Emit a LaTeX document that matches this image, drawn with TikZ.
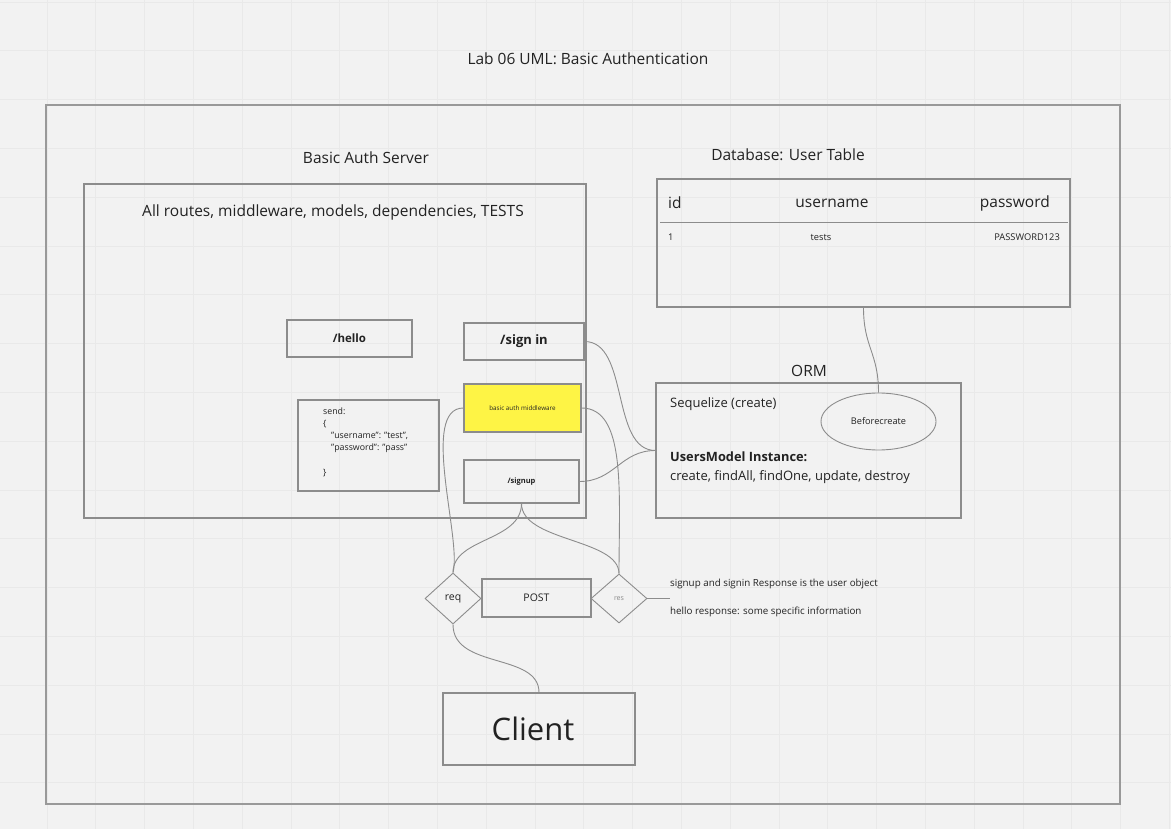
\documentclass[tikz,border=0pt]{standalone}
\usepackage{fontspec}
\setmainfont{Open Sans}
\usetikzlibrary{shapes.geometric}
\definecolor{bg}{HTML}{F2F2F2}
\definecolor{gridc}{HTML}{E9E9E9}
\definecolor{linec}{HTML}{8C8C8C}
\definecolor{framec}{HTML}{999999}
\definecolor{txt}{HTML}{222222}
\definecolor{yel}{HTML}{FEF445}
\definecolor{resc}{HTML}{8A8A8A}
\newcommand{\fs}[1]{\fontsize{#1}{\fpeval{#1*1.2}}\selectfont}
\tikzset{
  box/.style={draw=linec, line width=1.1pt, inner sep=0pt},
  conn/.style={draw=linec, line width=0.9pt},
  lbl/.style={text=txt, inner sep=0pt},
  dia/.style={diamond, draw=linec, line width=0.9pt, inner sep=0pt, aspect=1},
}
\begin{document}
\begin{tikzpicture}[x=1pt,y=-1pt]
\useasboundingbox (0,0) rectangle (1171,829);
\fill[bg] (0,0) rectangle (1171,829);
\foreach \i in {0,...,24} { \draw[gridc, line width=0.7pt] ({-1.8+48.8*\i},0) -- ({-1.8+48.8*\i},829); }
\foreach \j in {0,...,17} { \draw[gridc, line width=0.7pt] (0,{2+48.8*\j}) -- (1171,{2+48.8*\j}); }

% title and outer frame
\node[lbl, font=\fs{15.5}] (title) at (588,59) {Lab 06 UML: Basic Authentication};
\node[draw=framec, line width=2pt, minimum width=1074pt, minimum height=699pt, inner sep=0pt] (frame) at (583,454.5) {};

% server
\node[lbl, font=\fs{15.5}] (srvlbl) at (366,158) {Basic Auth Server};
\node[box, minimum width=502pt, minimum height=334pt] (server) at (335,351) {};
\node[lbl, font=\fs{15.5}] (routes) at (333,212) {All routes, middleware, models, dependencies, TESTS};

\node[box, minimum width=125pt, minimum height=37pt, font=\bfseries\fs{11.5}, text=txt] (hello) at (349.5,338.5) {/hello};
\node[box, minimum width=120pt, minimum height=37pt, font=\bfseries\fs{13}, text=txt] (signin) at (524,341.5) {/sign in};
\node[box, fill=yel, minimum width=117pt, minimum height=48pt, font=\fs{6.3}, text=txt] (mw) at (522.5,408) {basic auth middleware};
\node[box, minimum width=115pt, minimum height=43pt, font=\bfseries\fs{7.5}, text=txt] (signup) at (521.5,481.5) {/signup};

\node[box, minimum width=141pt, minimum height=91pt] (send) at (368.5,445.5) {};
\node[lbl, font=\fontsize{8.8}{12.2}\selectfont, anchor=north west, align=left] (sendtxt) at (323,407.5) {send:\\\{\\\hspace{8pt}"username": "test",\\\hspace{8pt}"password": "pass"\\[12.2pt]\}};

% database
\node[lbl, font=\fs{15.5}] (dblbl) at (788,155) {Database: User Table};
\node[box, minimum width=413pt, minimum height=128pt] (table) at (863.5,243) {};
\draw[linec, line width=0.9pt] (660,222) -- (1068,222);
\node[lbl, font=\fs{15.5}, anchor=west] (hid) at (668,203) {id};
\node[lbl, font=\fs{15.5}] (huser) at (832,203) {username};
\node[lbl, font=\fs{15.5}, anchor=east] (hpass) at (1050,203) {password};
\node[lbl, font=\fs{9.3}, anchor=west] (r1) at (668,237) {1};
\node[lbl, font=\fs{9.3}] (r2) at (821,237) {tests};
\node[lbl, font=\fs{9.3}, anchor=east] (r3) at (1060,237) {PASSWORD123};

% ORM
\node[lbl, font=\fs{15.5}] (ormlbl) at (809,371) {ORM};
\node[box, minimum width=305pt, minimum height=135pt] (orm) at (808.5,450.5) {};
\node[lbl, font=\fs{13}, anchor=west] (seq) at (670,404) {Sequelize (create)};
\node[ellipse, draw=linec, line width=0.9pt, minimum width=115pt, minimum height=57pt, inner sep=0pt, font=\fs{9.2}, text=txt] (bc) at (878.5,421.5) {Beforecreate};
\node[lbl, font=\bfseries\fs{12.8}, anchor=west] (umi) at (670,457) {UsersModel Instance:};
\node[lbl, font=\fs{13}, anchor=west] (meth) at (670,477) {create, findAll, findOne, update, destroy};

% request / response
\node[dia, minimum width=56pt, minimum height=51pt, font=\fs{10.5}, text=txt] (req) at (453,598.5) {req};
\node[box, minimum width=109pt, minimum height=38pt, font=\fs{10.5}, text=txt] (post) at (536.5,598) {POST};
\node[dia, minimum width=56pt, minimum height=49pt, font=\fs{7}, text=resc] (res) at (619,598.5) {res};
\coordinate (resend) at (670,598.5);
\node[lbl, font=\fs{9.8}, anchor=west] (resp1) at (670,584) {signup and signin Response is the user object};
\node[lbl, font=\fs{9.8}, anchor=west] (resp2) at (670,612) {hello response: some specific information};

\node[box, minimum width=192pt, minimum height=72pt] (client) at (539,729) {};
\node[lbl, font=\fs{31}] (clienttxt) at (533,729) {Client};

% connectors
\draw[conn] (signin.east) .. controls +(45,0) and +(-45,0) .. (orm.west);
\draw[conn] (signup.east) .. controls +(35,0) and +(-35,0) .. (orm.west);
\draw[conn] (mw.east) .. controls +(45,0) and +(0,-80) .. (res.north);
\draw[conn] (mw.west) .. controls +(-44,0) and +(9,-33) .. (req.north);
\draw[conn] (signup.south) .. controls +(0,38) and +(0,-35) .. (req.north);
\draw[conn] (signup.south) .. controls +(0,38) and +(0,-35) .. (res.north);
\draw[conn] (res.east) -- (resend);
\draw[conn] (req.south) .. controls +(0,45) and +(0,-40) .. (client.north);
\draw[conn] (table.south) .. controls +(0,40) and +(0,-40) .. (bc.north);
\end{tikzpicture}
\end{document}
